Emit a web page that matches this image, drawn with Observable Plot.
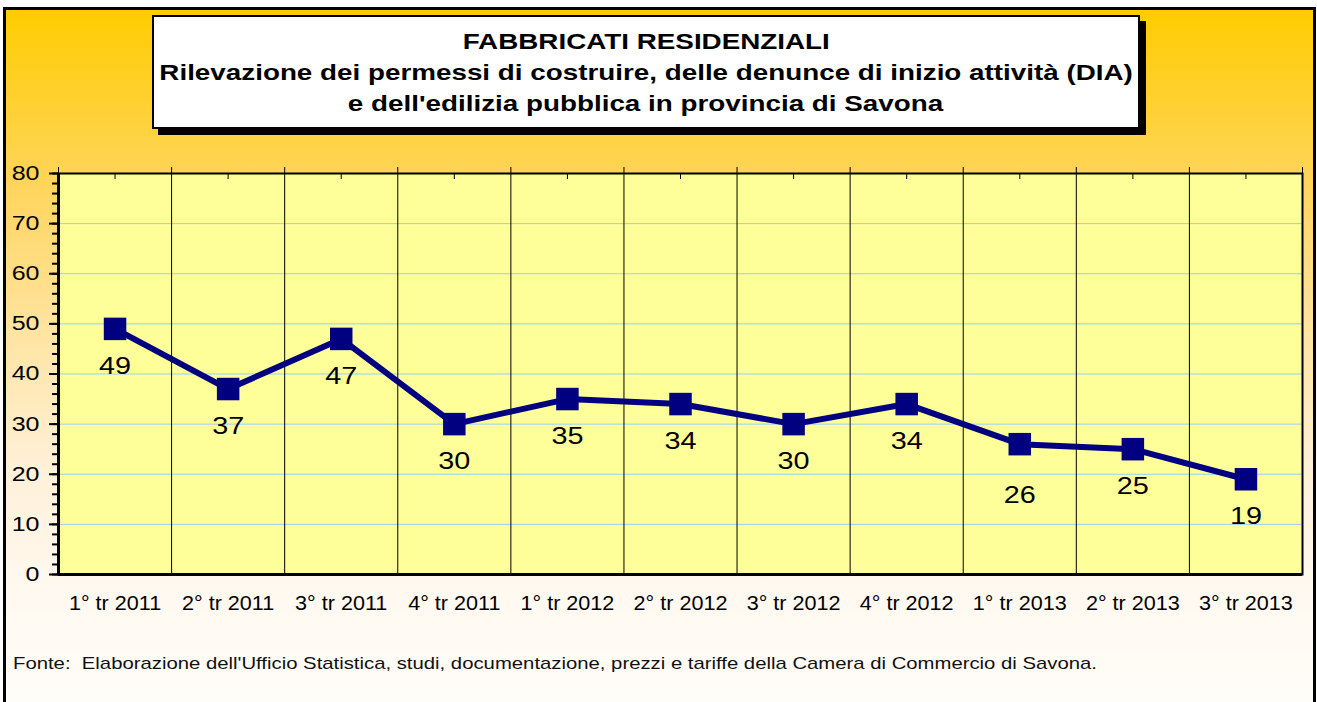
<!DOCTYPE html>
<html>
<head>
<meta charset="utf-8">
<script src="https://cdn.jsdelivr.net/npm/d3@7"></script>
<script src="https://cdn.jsdelivr.net/npm/@observablehq/plot@0.6"></script>
<style>
  body { margin: 0; background: #fff; font-family: Arial, "Liberation Sans", sans-serif; }
  #wrap { position: relative; width: 1317px; height: 702px; overflow: hidden; }
  #bg {
    position: absolute; left: 3px; top: 7px; width: 1313px; height: 702px;
    box-sizing: border-box; border: 3px solid #000;
    background: linear-gradient(to bottom, #FFCC00 0%, #FFD458 24%, #FFE39E 45%, #FFF0D8 66%, #FFF9F0 84%, #FFFDF9 100%);
  }
  #chart { position: absolute; left: 0; top: 0; }
  #title {
    position: absolute; left: 152px; top: 15px; width: 988px; height: 114px;
    box-sizing: border-box; border: 2px solid #000; background: #fff;
    box-shadow: 6px 6px 0 #000; text-align: center; font-weight: bold;
    font-size: 22px; line-height: 31px; padding-top: 9px; color: #000;
  }
  #title div span { display: inline-block; transform: scaleX(1.264); white-space: nowrap; }
  #source {
    position: absolute; left: 13px; top: 654px; font-size: 17px; color: #111;
    transform-origin: left center; transform: scaleX(1.194); white-space: pre;
  }
</style>
</head>
<body>
<div id="wrap">
  <div id="bg"></div>
  <div id="chart"></div>
  <div id="title"></div>
  <div id="source"></div>
</div>
<script>
const titleLines = [
  "FABBRICATI RESIDENZIALI",
  "Rilevazione dei permessi di costruire, delle denunce di inizio attività (DIA)",
  "e dell'edilizia pubblica in provincia di Savona"
];
const sourceText = "Fonte:  Elaborazione dell'Ufficio Statistica, studi, documentazione, prezzi e tariffe della Camera di Commercio di Savona.";
const categories = ["1° tr 2011", "2° tr 2011", "3° tr 2011", "4° tr 2011", "1° tr 2012", "2° tr 2012", "3° tr 2012", "4° tr 2012", "1° tr 2013", "2° tr 2013", "3° tr 2013"];
const values = [49, 37, 47, 30, 35, 34, 30, 34, 26, 25, 19];
const yTicks = [0, 10, 20, 30, 40, 50, 60, 70, 80];
const yMinorTicks = d3.range(0, 81, 2);

const data = categories.map((c, i) => ({i, c, v: values[i]}));
const idx = categories.map((_, i) => i);
const boundaries = d3.range(-0.5, categories.length, 1);
const lowLabel = 8; // label of "1° tr 2013" sits lower in the original

document.getElementById("title").innerHTML = titleLines.map(t => `<div><span>${t}</span></div>`).join("");
document.getElementById("source").textContent = sourceText;

const navy = "#000080";
const chart = Plot.plot({
  width: 1317,
  height: 702,
  marginLeft: 58,
  marginRight: 15,
  marginTop: 173,
  marginBottom: 128,
  style: {background: "transparent", fontFamily: "Arial, 'Liberation Sans', sans-serif", color: "#000", overflow: "visible"},
  x: {type: "linear", domain: [-0.5, categories.length - 0.5]},
  y: {domain: [0, 80]},
  marks: [
    Plot.frame({fill: "#FFFF99"}),
    Plot.gridY(yTicks, {stroke: "#99CCFF", strokeOpacity: 1, strokeWidth: 1}),
    Plot.ruleX(boundaries, {stroke: "#000", strokeWidth: 1, insetTop: -6}),
    Plot.axisX(idx, {anchor: "top", tickSize: -5, tickFormat: () => "", stroke: "#000", label: null}),
    Plot.axisX(idx, {anchor: "bottom", tickSize: 0, tickPadding: 21, tickFormat: i => categories[i], fontSize: 20, fill: "#000", label: null}),
    Plot.axisY(yMinorTicks, {tickSize: 6, tickFormat: () => "", strokeWidth: 2, stroke: "#000", label: null}),
    Plot.axisY(yTicks, {tickSize: 9, tickPadding: 10, fontSize: 20, strokeWidth: 2, stroke: "#000", fill: "#000", label: null}),
    Plot.frame({stroke: "#000", strokeWidth: 2}),
    Plot.ruleX([boundaries[0]], {stroke: "#000", strokeWidth: 3}),
    Plot.ruleY([0], {stroke: "#000", strokeWidth: 3}),
    Plot.line(data, {x: "i", y: "v", stroke: navy, strokeWidth: 6, strokeLinejoin: "miter"}),
    Plot.dot(data, {x: "i", y: "v", symbol: "square", r: 12.7, fill: navy, stroke: "none"}),
    Plot.text(data.filter(d => d.i !== lowLabel), {x: "i", y: "v", text: d => String(d.v), dy: 37, fontSize: 24, fill: "#000"}),
    Plot.text(data.filter(d => d.i === lowLabel), {x: "i", y: "v", text: d => String(d.v), dy: 51, fontSize: 24, fill: "#000"})
  ]
});
document.getElementById("chart").appendChild(chart);

// widen glyphs horizontally (the original text is drawn wider than Arial)
function stretchTexts(k, anchor) {
  return (t) => {
    const b = t.getBBox();
    if (!b.width) return;
    const ax = anchor === "end" ? b.x + b.width : b.x + b.width / 2;
    const prev = t.getAttribute("transform") || "";
    t.setAttribute("transform", `${prev} translate(${ax},0) scale(${k},1) translate(${-ax},0)`);
  };
}
const textGroups = [...chart.querySelectorAll("g")];
function groupTexts(pred) {
  return textGroups.filter(pred).flatMap(g => [...g.querySelectorAll(":scope > text")]);
}
groupTexts(g => g.getAttribute("aria-label") === "text").forEach(stretchTexts(1.2, "middle"));
groupTexts(g => /y-axis tick label/.test(g.getAttribute("aria-label") || "")).forEach(stretchTexts(1.25, "end"));
groupTexts(g => /x-axis tick label/.test(g.getAttribute("aria-label") || "")).forEach(stretchTexts(1.08, "middle"));
</script>
</body>
</html>
